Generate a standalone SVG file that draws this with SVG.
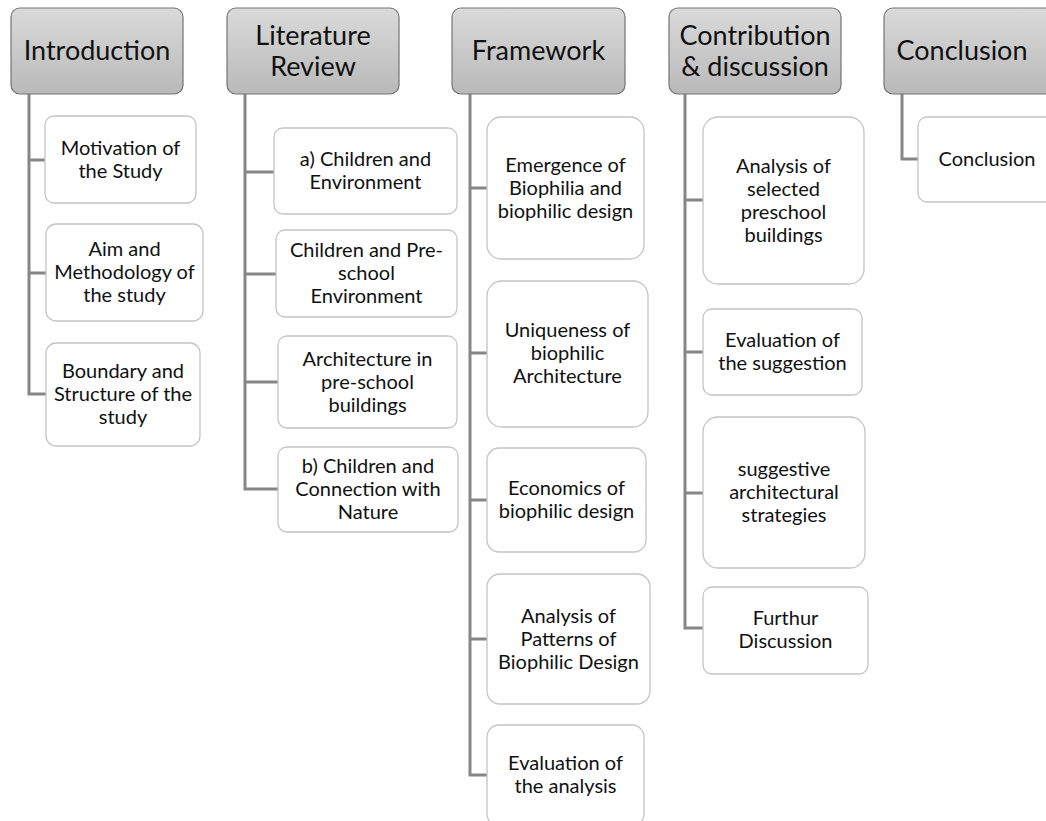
<svg xmlns="http://www.w3.org/2000/svg" width="1046" height="821" viewBox="0 0 1046 821">
  <defs>
    <linearGradient id="headFill" x1="0" y1="0" x2="0" y2="1">
      <stop offset="0" stop-color="#dadada"/>
      <stop offset="1" stop-color="#b9b9b9"/>
    </linearGradient>
  </defs>
  <style>
    .head rect { fill: url(#headFill); stroke: #747474; stroke-width: 1.2; }
    .head text { font-family: Lato, "Liberation Sans", sans-serif; font-size: 27px; fill: #111; text-anchor: middle; }
    .item rect { fill: #ffffff; stroke: #c4c4c4; stroke-width: 1.3; }
    .item text { font-family: Lato, "Liberation Sans", sans-serif; font-size: 20px; fill: #111; text-anchor: middle; }
    #connectors path { fill: none; stroke: #868686; stroke-width: 3; }
  </style>
  <rect width="1046" height="821" fill="#ffffff"/>

  <!-- connectors: one trunk per column, with a branch to each item -->
  <g id="connectors">
    <path d="M29 94 V394 H46 M29 160 H45 M29 273 H46"/>
    <path d="M245 94 V489 H278 M245 172 H274 M245 274 H276 M245 382 H278"/>
    <path d="M470 94 V775 H487 M470 188 H487 M470 353 H487 M470 500 H487 M470 639 H487"/>
    <path d="M685 94 V628 H703 M685 200 H703 M685 352 H703 M685 493 H703"/>
    <path d="M902 94 V159 H918"/>
  </g>

  <!-- column headers -->
  <g id="h-introduction" class="head">
    <rect x="11" y="8" width="172" height="86" rx="9"/>
    <text x="97" y="60">Introduction</text>
  </g>
  <g id="h-literature" class="head">
    <rect x="227" y="8" width="172" height="86" rx="9"/>
    <text x="313" y="45">Literature</text>
    <text x="313" y="76">Review</text>
  </g>
  <g id="h-framework" class="head">
    <rect x="452" y="8" width="173" height="86" rx="9"/>
    <text x="538.5" y="60">Framework</text>
  </g>
  <g id="h-contribution" class="head">
    <rect x="669" y="8" width="172" height="86" rx="9"/>
    <text x="755" y="45">Contribution</text>
    <text x="755" y="76">&amp; discussion</text>
  </g>
  <g id="h-conclusion" class="head">
    <rect x="884" y="8" width="172" height="86" rx="9"/>
    <text x="962" y="60">Conclusion</text>
  </g>

  <!-- Introduction items -->
  <g id="i-motivation" class="item">
    <rect x="45" y="116" width="151" height="87" rx="9"/>
    <text x="120.5" y="155">Motivation of</text>
    <text x="120.5" y="178">the Study</text>
  </g>
  <g id="i-aim" class="item">
    <rect x="46" y="224" width="157" height="97" rx="10"/>
    <text x="124.5" y="256">Aim and</text>
    <text x="124.5" y="279">Methodology of</text>
    <text x="124.5" y="302">the study</text>
  </g>
  <g id="i-boundary" class="item">
    <rect x="46" y="343" width="154" height="103" rx="10"/>
    <text x="123" y="378">Boundary and</text>
    <text x="123" y="401">Structure of the</text>
    <text x="123" y="424">study</text>
  </g>

  <!-- Literature Review items -->
  <g id="l-environment" class="item">
    <rect x="274" y="128" width="183" height="86" rx="9"/>
    <text x="365.5" y="166">a) Children and</text>
    <text x="365.5" y="189">Environment</text>
  </g>
  <g id="l-preschool" class="item">
    <rect x="276" y="230" width="181" height="87" rx="9"/>
    <text x="366.5" y="257">Children and Pre-</text>
    <text x="366.5" y="280">school</text>
    <text x="366.5" y="303">Environment</text>
  </g>
  <g id="l-architecture" class="item">
    <rect x="278" y="336" width="179" height="92" rx="9"/>
    <text x="367.5" y="366">Architecture in</text>
    <text x="367.5" y="389">pre-school</text>
    <text x="367.5" y="412">buildings</text>
  </g>
  <g id="l-nature" class="item">
    <rect x="278" y="447" width="180" height="85" rx="9"/>
    <text x="368" y="473">b) Children and</text>
    <text x="368" y="496">Connection with</text>
    <text x="368" y="519">Nature</text>
  </g>

  <!-- Framework items -->
  <g id="f-emergence" class="item">
    <rect x="487" y="117" width="157" height="142" rx="14"/>
    <text x="565.5" y="172">Emergence of</text>
    <text x="565.5" y="195">Biophilia and</text>
    <text x="565.5" y="218">biophilic design</text>
  </g>
  <g id="f-uniqueness" class="item">
    <rect x="487" y="281" width="161" height="146" rx="15"/>
    <text x="567.5" y="337">Uniqueness of</text>
    <text x="567.5" y="360">biophilic</text>
    <text x="567.5" y="383">Architecture</text>
  </g>
  <g id="f-economics" class="item">
    <rect x="487" y="448" width="159" height="104" rx="12"/>
    <text x="566.5" y="495">Economics of</text>
    <text x="566.5" y="518">biophilic design</text>
  </g>
  <g id="f-patterns" class="item">
    <rect x="487" y="574" width="163" height="130" rx="13"/>
    <text x="568.5" y="623">Analysis of</text>
    <text x="568.5" y="646">Patterns of</text>
    <text x="568.5" y="669">Biophilic Design</text>
  </g>
  <g id="f-evaluation" class="item">
    <rect x="487" y="725" width="157" height="101" rx="12"/>
    <text x="565.5" y="770">Evaluation of</text>
    <text x="565.5" y="793">the analysis</text>
  </g>

  <!-- Contribution & discussion items -->
  <g id="c-analysis" class="item">
    <rect x="703" y="117" width="161" height="167" rx="15"/>
    <text x="783.5" y="173">Analysis of</text>
    <text x="783.5" y="196">selected</text>
    <text x="783.5" y="219">preschool</text>
    <text x="783.5" y="242">buildings</text>
  </g>
  <g id="c-evaluation" class="item">
    <rect x="703" y="309" width="159" height="86" rx="9"/>
    <text x="782.5" y="347">Evaluation of</text>
    <text x="782.5" y="370">the suggestion</text>
  </g>
  <g id="c-strategies" class="item">
    <rect x="703" y="417" width="162" height="151" rx="15"/>
    <text x="784" y="476">suggestive</text>
    <text x="784" y="499">architectural</text>
    <text x="784" y="522">strategies</text>
  </g>
  <g id="c-discussion" class="item">
    <rect x="703" y="587" width="165" height="87" rx="9"/>
    <text x="785.5" y="625">Furthur</text>
    <text x="785.5" y="648">Discussion</text>
  </g>

  <!-- Conclusion item -->
  <g id="k-conclusion" class="item">
    <rect x="918" y="117" width="138" height="85" rx="9"/>
    <text x="987" y="166">Conclusion</text>
  </g>
</svg>
